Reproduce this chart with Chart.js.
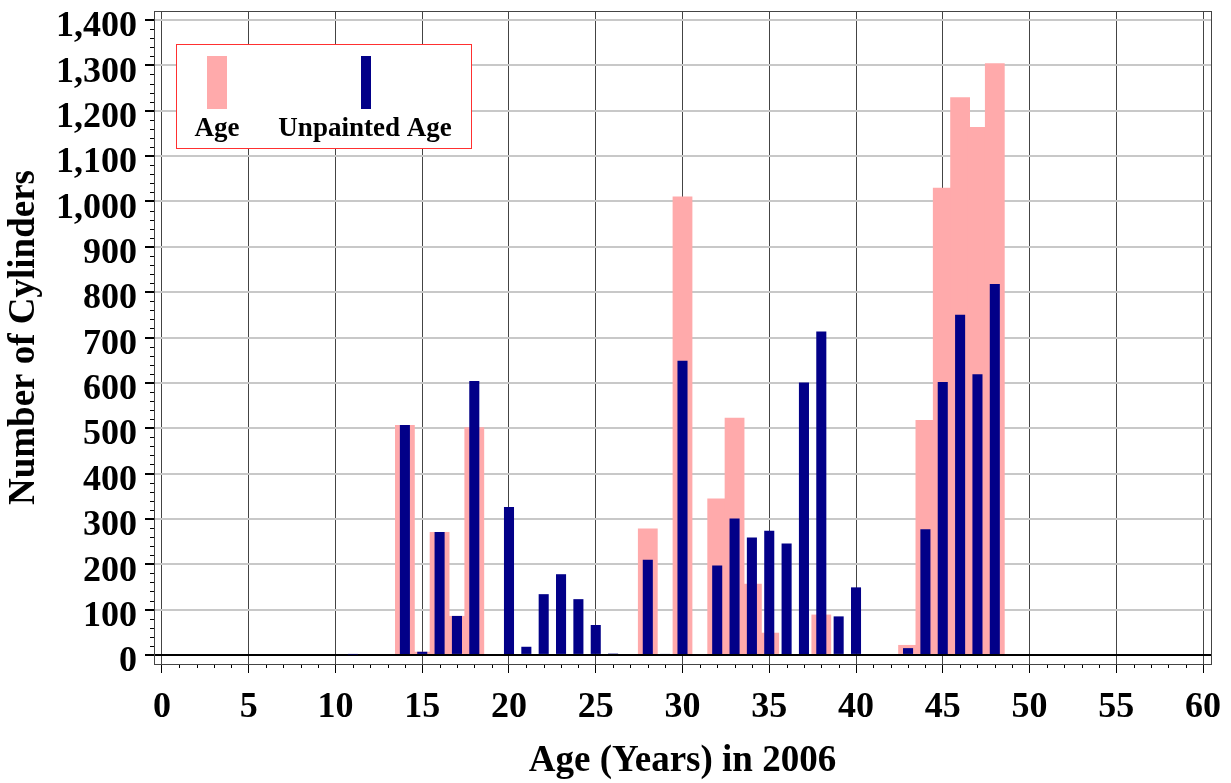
<!DOCTYPE html>
<html>
<head>
<meta charset="utf-8">
<title>Number of Cylinders by Age</title>
<script src="https://cdn.jsdelivr.net/npm/chart.js@4.4.1/dist/chart.umd.min.js"></script>
<style>
  html, body { margin: 0; padding: 0; background: #fff; }
  canvas { display: block; }
</style>
</head>
<body>
<canvas id="ageChart" width="1231" height="783"></canvas>
<script>
// ages (years in 2006) that have a bar
const ages = [11, 14, 15, 16, 17, 18, 20, 21, 22, 23, 24, 25, 26, 28, 29, 30,
              32, 33, 34, 35, 36, 37, 38, 39, 40, 43, 44, 45, 46, 47, 48];
// cylinders per age
const ageCounts = [null, 507, 7, 271, 86, 502, null, null, null, null, null, null, null, 279, null, 1011,
                   345, 523, 157, 49, null, null, 89, null, null, 22, 518, 1030, 1230, 1164, 1305];
// unpainted cylinders per age
const unpaintedCounts = [1, 507, 7, 271, 86, 604, 326, 18, 134, 178, 123, 66, 3, 210, 2, 649,
                         197, 301, 259, 274, 246, 601, 713, 85, 149, 15, 277, 602, 750, 619, 818];

const xTicks = [0, 5, 10, 15, 20, 25, 30, 35, 40, 45, 50, 55, 60];
const yTicks = [0, 100, 200, 300, 400, 500, 600, 700, 800, 900, 1000, 1100, 1200, 1300, 1400];

const serif = "'Liberation Serif', 'Times New Roman', serif";

function toPoints(values) {
    return ages.map((a, i) => ({ x: a, y: values[i] }));
}

// Рамка графика и мелкие деления
const framePlugin = {
    id: 'frame',
    afterDatasetsDraw(chart) {
        const { ctx, chartArea: area, scales: { x, y } } = chart;
        ctx.save();
        ctx.strokeStyle = '#000';
        ctx.lineWidth = 1;
        ctx.beginPath();
        for (let v = 0; v <= 60; v++) {
            if (v % 5 === 0) continue;
            const px = Math.round(x.getPixelForValue(v)) + 0.5;
            ctx.moveTo(px, area.bottom);
            ctx.lineTo(px, area.bottom + 4);
        }
        for (let v = 0; v <= 1400; v += 20) {
            if (v % 100 === 0) continue;
            const py = Math.round(y.getPixelForValue(v)) + 0.5;
            ctx.moveTo(area.left - 4, py);
            ctx.lineTo(area.left, py);
        }
        ctx.stroke();
        ctx.strokeStyle = '#444';
        ctx.strokeRect(Math.round(area.left) + 0.5, Math.round(area.top) + 0.5,
                       Math.round(area.right - area.left), Math.round(area.bottom - area.top));
        ctx.restore();
    }
};

// Легенда: образец над подписью
const boxLegendPlugin = {
    id: 'boxLegend',
    afterDraw(chart) {
        const ctx = chart.ctx;
        const sets = chart.data.datasets;
        ctx.save();
        ctx.fillStyle = '#fff';
        ctx.fillRect(176, 44, 296, 104);
        ctx.strokeStyle = '#ff3030';
        ctx.lineWidth = 1;
        ctx.strokeRect(176.5, 44.5, 295, 104);

        const swatches = [
            { cx: 217, w: 20 },
            { cx: 366, w: 10 }
        ];
        ctx.font = 'bold 27px ' + serif;
        ctx.textAlign = 'center';
        ctx.textBaseline = 'alphabetic';
        sets.forEach((ds, i) => {
            const s = swatches[i];
            ctx.fillStyle = ds.backgroundColor;
            ctx.fillRect(s.cx - s.w / 2, 56, s.w, 53);
            ctx.fillStyle = '#000';
            ctx.fillText(ds.label, i === 0 ? 217 : 365, 136);
        });
        ctx.restore();
    }
};

document.addEventListener('DOMContentLoaded', function() {
    const ctx = document.getElementById('ageChart');

    new Chart(ctx, {
        type: 'bar',
        data: {
            datasets: [{
                label: 'Age',
                data: toPoints(ageCounts),
                backgroundColor: '#ffaaab',
                borderWidth: 0,
                grouped: false,
                categoryPercentage: 1,
                barPercentage: 1.14,
                order: 2
            }, {
                label: 'Unpainted Age',
                data: toPoints(unpaintedCounts),
                backgroundColor: '#020088',
                borderWidth: 0,
                grouped: false,
                categoryPercentage: 1,
                barPercentage: 0.58,
                order: 1
            }]
        },
        options: {
            responsive: false,
            animation: false,
            layout: { padding: { top: 11, right: 20, left: 0, bottom: 0 } },
            plugins: {
                legend: { display: false },
                tooltip: { enabled: false }
            },
            scales: {
                x: {
                    type: 'linear',
                    offset: false,
                    min: -0.46,
                    max: 60.46,
                    afterBuildTicks: (scale) => { scale.ticks = xTicks.map(v => ({ value: v })); },
                    afterFit: (scale) => {
                        scale.height = 119;
                        scale.paddingLeft = 0;
                        scale.paddingRight = 0;
                    },
                    border: { display: true, color: '#222', width: 1 },
                    grid: {
                        offset: false,
                        color: '#444',
                        lineWidth: 1,
                        tickColor: '#000',
                        tickLength: 9
                    },
                    ticks: {
                        autoSkip: false,
                        maxRotation: 0,
                        padding: 13,
                        color: '#000',
                        font: { family: serif, size: 36, weight: 'bold' }
                    },
                    title: {
                        display: true,
                        text: 'Age (Years) in 2006',
                        color: '#000',
                        padding: { top: 0, bottom: 3 },
                        font: { family: serif, size: 37, weight: 'bold', lineHeight: 1 }
                    }
                },
                y: {
                    min: -20,
                    max: 1420,
                    afterBuildTicks: (scale) => { scale.ticks = yTicks.map(v => ({ value: v })); },
                    afterFit: (scale) => {
                        scale.width = 154;
                        scale.paddingTop = 0;
                        scale.paddingBottom = 0;
                    },
                    border: { display: true, color: '#222', width: 1 },
                    grid: {
                        color: (c) => (c.tick && c.tick.value === 0) ? '#000' : '#c8c8c8',
                        lineWidth: 2,
                        tickColor: '#000',
                        tickLength: 9
                    },
                    ticks: {
                        autoSkip: false,
                        padding: 8,
                        labelOffset: 7,
                        color: '#000',
                        font: { family: serif, size: 36, weight: 'bold' },
                        callback: (v) => v.toLocaleString('en-US')
                    },
                    title: {
                        display: true,
                        text: 'Number of Cylinders',
                        color: '#000',
                        padding: { top: 6, bottom: 0 },
                        font: { family: serif, size: 37, weight: 'bold', lineHeight: 1 }
                    }
                }
            }
        },
        plugins: [framePlugin, boxLegendPlugin]
    });
});
</script>
</body>
</html>
